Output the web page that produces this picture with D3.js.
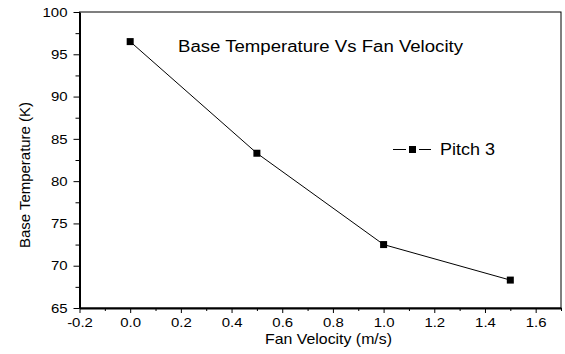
<!DOCTYPE html>
<html><head><meta charset="utf-8">
<script src="https://cdn.jsdelivr.net/npm/d3@7"></script>
<style>body{margin:0;background:#fff}svg{display:block}text{font-family:"Liberation Sans",Arial,sans-serif;fill:#000}</style>
</head><body>
<script>
const velocity = [0.0, 0.5, 1.0, 1.5];
const temperature = [96.5, 83.3, 72.5, 68.3];
const seriesName = "Pitch 3";
const title = "Base Temperature Vs Fan Velocity";
const xLabel = "Fan Velocity (m/s)";
const yLabel = "Base Temperature (K)";
const xTicks = [-0.2, 0.0, 0.2, 0.4, 0.6, 0.8, 1.0, 1.2, 1.4, 1.6];
const yTicks = [65, 70, 75, 80, 85, 90, 95, 100];

const W = 565, H = 354;
const m = {l: 79.5, r: 4, t: 12, b: 46};
const svg = d3.select("body").append("svg").attr("width", W).attr("height", H);
const x = d3.scaleLinear().domain([-0.2, 1.7]).range([m.l, W - m.r]);
const y = d3.scaleLinear().domain([65, 100]).range([H - m.b, m.t]);

function stretch(sel, f) {
  sel.each(function() {
    const L = this.getComputedTextLength();
    d3.select(this).attr("textLength", L * f).attr("lengthAdjust", "spacingAndGlyphs");
  });
}
function fitTo(sel, w) {
  sel.attr("textLength", w).attr("lengthAdjust", "spacingAndGlyphs");
}

// frame
svg.append("rect").attr("x", x(-0.2)).attr("y", y(100)).attr("width", x(1.7) - x(-0.2)).attr("height", y(65) - y(100))
  .attr("fill", "none").attr("stroke", "#000").attr("stroke-width", 1);

// minor ticks
const xMinor = d3.range(-0.1, 1.71, 0.2);
const yMinor = d3.range(67.5, 100, 5);
svg.append("g").attr("transform", `translate(0,${y(65)})`)
  .call(d3.axisBottom(x).tickValues(xMinor).tickSize(3).tickFormat(""))
  .call(g => g.select(".domain").remove());
svg.append("g").attr("transform", `translate(${x(-0.2)},0)`)
  .call(d3.axisLeft(y).tickValues(yMinor).tickSize(4).tickFormat(""))
  .call(g => g.select(".domain").remove());

const fmtX = d => d3.format(".1f")(d).replace("\u2212", "-");
const xa = svg.append("g").attr("transform", `translate(0,${y(65)})`)
  .call(d3.axisBottom(x).tickValues(xTicks).tickSize(5).tickSizeOuter(0).tickPadding(5).tickFormat(fmtX));
xa.select(".domain").attr("stroke-width", 2);
const ya = svg.append("g").attr("transform", `translate(${x(-0.2)},0)`)
  .call(d3.axisLeft(y).tickValues(yTicks).tickSize(6).tickSizeOuter(0).tickPadding(6).tickFormat(d3.format("d")));
ya.select(".domain").attr("stroke-width", 2);
svg.selectAll(".tick text").attr("font-size", 13).attr("font-family", "Liberation Sans, Arial, sans-serif").attr("fill", "#000");
svg.selectAll(".tick line").attr("stroke", "#000");
stretch(svg.selectAll(".tick text"), 1.15);

// line
const pts = velocity.map((v, i) => [v, temperature[i]]);
svg.append("path").datum(pts).attr("fill", "none").attr("stroke", "#000").attr("stroke-width", 1)
  .attr("d", d3.line().x(d => x(d[0])).y(d => y(d[1])));
svg.selectAll("rect.mk").data(pts).join("rect").attr("class", "mk")
  .attr("x", d => x(d[0]) - 3.5).attr("y", d => y(d[1]) - 3.5).attr("width", 7).attr("height", 7).attr("fill", "#000");

// title
svg.append("text").attr("x", 178).attr("y", 52).attr("font-size", 16).text(title).call(fitTo, 285);

// legend
const ly = 149;
svg.append("line").attr("x1", 393).attr("x2", 406).attr("y1", ly + 0.5).attr("y2", ly + 0.5).attr("stroke", "#000");
svg.append("line").attr("x1", 419).attr("x2", 431).attr("y1", ly + 0.5).attr("y2", ly + 0.5).attr("stroke", "#000");
svg.append("rect").attr("x", 409).attr("y", ly - 3).attr("width", 7).attr("height", 7).attr("fill", "#000");
svg.append("text").attr("x", 440).attr("y", ly + 5.5).attr("font-size", 16).text(seriesName).call(fitTo, 55);

// axis labels
svg.append("text").attr("x", 328.5).attr("y", 344).attr("text-anchor", "middle").attr("font-size", 15).text(xLabel).call(fitTo, 127);
svg.append("text").attr("transform", `translate(30,175) rotate(-90)`).attr("text-anchor", "middle").attr("font-size", 15).text(yLabel).call(fitTo, 146);
</script>
</body></html>
